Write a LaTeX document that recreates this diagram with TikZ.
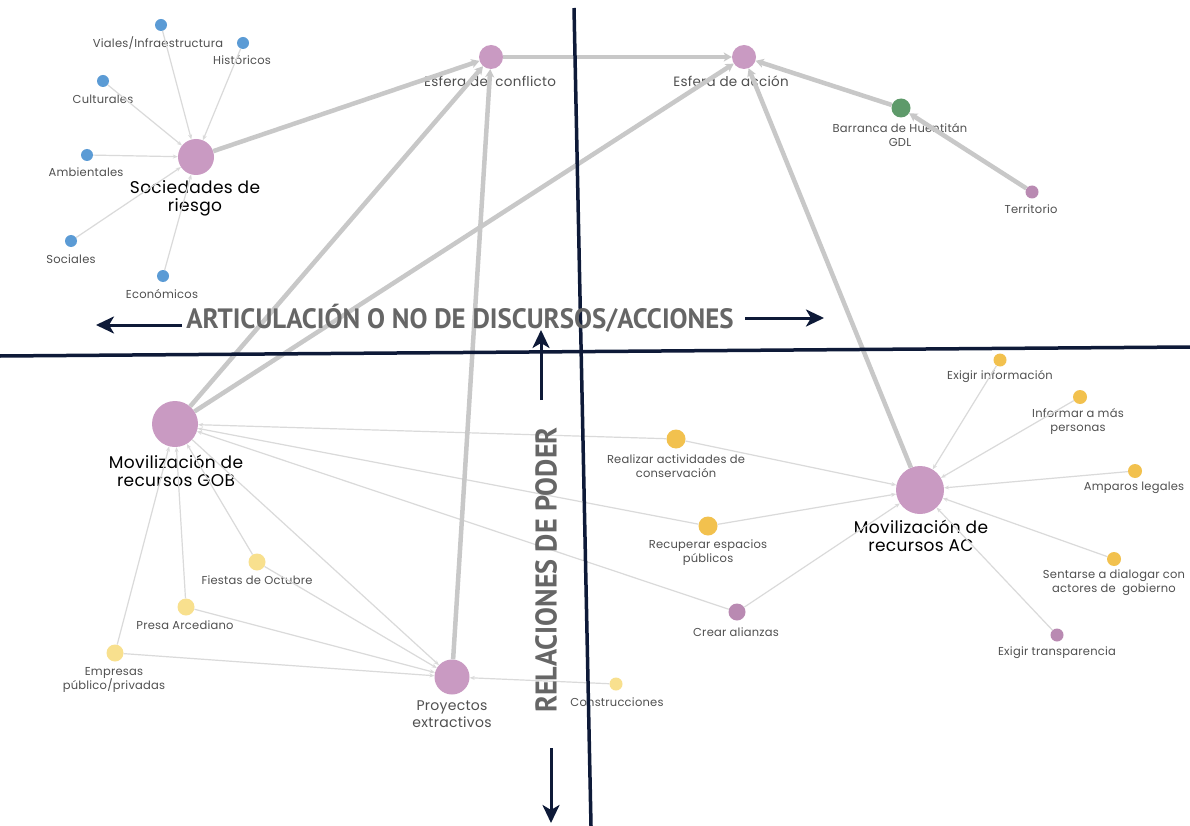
\documentclass[tikz,border=0pt]{standalone}
\usepackage{fontspec}
\setmainfont{Poppins}[LetterSpace=2]
\newfontfamily\headfont{PT Sans}
\usetikzlibrary{arrows.meta}
\definecolor{hub}{HTML}{C99AC2}
\definecolor{mauve}{HTML}{B98AB2}
\definecolor{bluedot}{HTML}{5B9BD5}
\definecolor{greendot}{HTML}{5E9A6A}
\definecolor{gold}{HTML}{F2C14E}
\definecolor{paleyel}{HTML}{F8E08E}
\definecolor{thickgrey}{HTML}{C8C8C8}
\definecolor{thingrey}{HTML}{DADADA}
\definecolor{navy}{HTML}{0E1A38}
\definecolor{lbl}{HTML}{505050}
\definecolor{headgrey}{HTML}{666666}
\tikzset{
  dot/.style={circle,inner sep=0pt,minimum size=#1},
  smalllbl/.style={text=lbl,font=\fontsize{11.5}{14}\selectfont,align=center,inner sep=0pt},
  esflbl/.style={text=lbl,font=\fontsize{13.5}{15}\selectfont,align=center,inner sep=0pt},
  hublbl/.style={text=black,font=\fontsize{17}{18}\selectfont,align=center,inner sep=0pt},
  thinedge/.style={draw=thingrey,line width=1.2pt,-{Stealth[length=5pt,width=4pt]}},
  thickedge/.style={draw=thickgrey,line width=4.5pt,-{Stealth[length=8pt,width=9pt,inset=2pt]}},
  axisline/.style={draw=navy,line width=3.5pt},
  axisarrow/.style={draw=navy,line width=3pt,-{Stealth[length=18pt,width=17pt,inset=5pt]}},
  headtxt/.style={text=headgrey,inner sep=0pt}
}
\begin{document}
\begin{tikzpicture}[x=1pt,y=-1pt]
\useasboundingbox[fill=white] (0,0) rectangle (1190,826);
% nodes
\node[dot=36pt,fill=hub] (soc) at (196,157) {};
\node[dot=12pt,fill=bluedot] (viales) at (161,25) {};
\node[dot=12pt,fill=bluedot] (hist) at (243,43) {};
\node[dot=12pt,fill=bluedot] (cult) at (103,81) {};
\node[dot=12pt,fill=bluedot] (amb) at (87,155) {};
\node[dot=12pt,fill=bluedot] (sociales) at (71,241) {};
\node[dot=12pt,fill=bluedot] (econ) at (163,276) {};
\node[dot=24pt,fill=hub] (conf) at (491,57) {};
\node[dot=24pt,fill=hub] (acc) at (744,57) {};
\node[dot=19pt,fill=greendot] (barr) at (901,108) {};
\node[dot=13pt,fill=mauve] (terr) at (1032,192) {};
\node[dot=46pt,fill=hub] (gob) at (175,424) {};
\node[dot=17pt,fill=paleyel] (fiestas) at (257,562) {};
\node[dot=17pt,fill=paleyel] (presa) at (186,607) {};
\node[dot=17pt,fill=paleyel] (empresas) at (115,653) {};
\node[dot=35pt,fill=hub] (proy) at (452,677) {};
\node[dot=13pt,fill=paleyel] (constr) at (616,684) {};
\node[dot=19pt,fill=gold] (realizar) at (676,439) {};
\node[dot=19pt,fill=gold] (recup) at (708,526) {};
\node[dot=17pt,fill=mauve] (crear) at (737,612) {};
\node[dot=48pt,fill=hub] (ac) at (920,490) {};
\node[dot=13pt,fill=gold] (exinfo) at (1000,360) {};
\node[dot=14pt,fill=gold] (informar) at (1080,397) {};
\node[dot=14pt,fill=gold] (amparos) at (1135,471) {};
\node[dot=14pt,fill=gold] (sentarse) at (1114,559) {};
\node[dot=13pt,fill=mauve] (extransp) at (1057,635) {};
% labels
\node[smalllbl] (lviales) at (158,43) {Viales/Infraestructura};
\node[smalllbl] (lhist) at (242,60) {Históricos};
\node[smalllbl] (lcult) at (103,99) {Culturales};
\node[smalllbl] (lamb) at (86,172) {Ambientales};
\node[hublbl] (lsoc) at (195,198) {Sociedades de\\riesgo};
\node[smalllbl] (lsociales) at (71,259) {Sociales};
\node[smalllbl] (lecon) at (162,294) {Económicos};
\node[esflbl] (lconf) at (490,81) {Esfera del conflicto};
\node[esflbl] (lacc) at (731,81) {Esfera de acción};
\node[smalllbl] (lbarr) at (900,135.5) {Barranca de Huentitán\\GDL};
\node[smalllbl] (lterr) at (1031,209) {Territorio};
\node[hublbl] (lgob) at (176,471) {Movilización de\\recursos GOB};
\node[smalllbl] (lfiestas) at (257,580) {Fiestas de Octubre};
\node[smalllbl] (lpresa) at (185,625) {Presa Arcediano};
\node[smalllbl] (lempresas) at (114,679.5) {Empresas\\público/privadas};
\node[smalllbl,font=\fontsize{14}{17}\selectfont] (lproy) at (452,714) {Proyectos\\extractivos};
\node[smalllbl] (lconstr) at (617,702) {Construcciones};
\node[smalllbl] (lrealizar) at (676,466) {Realizar actividades de\\conservación};
\node[smalllbl] (lrecup) at (708,553) {Recuperar espacios\\públicos};
\node[smalllbl] (lcrear) at (736,632) {Crear alianzas};
\node[hublbl] (lac) at (921,535.5) {Movilización de\\recursos AC};
\node[smalllbl] (lexinfo) at (1000,377) {Exigir información};
\node[smalllbl] (linformar) at (1078,421) {Informar a más\\personas};
\node[smalllbl] (lamparos) at (1134,488) {Amparos legales};
\node[smalllbl] (lsentarse) at (1114,583) {Sentarse a dialogar con\\actores de\ \ gobierno};
\node[smalllbl] (lextransp) at (1057,653) {Exigir transparencia};
% thin edges
\foreach \s in {viales,hist,cult,amb,sociales,econ} \draw[thinedge] (\s) -- (soc);
\foreach \s in {realizar,recup,crear,fiestas,presa,empresas} \draw[thinedge] (\s) -- (gob);
\draw[thinedge] (gob) -- (proy);
\foreach \s in {fiestas,presa,empresas,constr} \draw[thinedge] (\s) -- (proy);
\foreach \s in {realizar,recup,crear,exinfo,informar,amparos,sentarse,extransp} \draw[thinedge] (\s) -- (ac);
% thick edges
\draw[thickedge] (soc) -- (conf);
\draw[thickedge] (gob) -- (conf);
\draw[thickedge] (proy) -- (conf);
\draw[thickedge] (conf) -- (acc);
\draw[thickedge] (gob) -- (acc);
\draw[thickedge] (ac) -- (acc);
\draw[thickedge] (barr) -- (acc);
\draw[thickedge] (terr) -- (barr);
% axes
\coordinate (hl) at (0,356);
\coordinate (hr) at (1190,347);
\coordinate (vt) at (574,8);
\coordinate (vb) at (591,826);
\draw[axisline] (hl) -- (hr);
\draw[axisline] (vt) -- (vb);
\coordinate (la1) at (182,325); \coordinate (la2) at (96,325);
\coordinate (ra1) at (745,318); \coordinate (ra2) at (824,318);
\coordinate (ua1) at (541,400); \coordinate (ua2) at (541,330);
\coordinate (da1) at (551,748); \coordinate (da2) at (551,823);
\draw[axisarrow] (la1) -- (la2);
\draw[axisarrow] (ra1) -- (ra2);
\draw[axisarrow] (ua1) -- (ua2);
\draw[axisarrow] (da1) -- (da2);
\node[headtxt] (arttxt) at (460,318) {\scalebox{0.96}[1]{\headfont\bfseries\fontsize{28}{28}\selectfont ARTICULACIÓN O NO DE DISCURSOS/ACCIONES}};
\node[headtxt,rotate=90] (reltxt) at (546,570) {\scalebox{0.94}[1]{\headfont\bfseries\fontsize{30}{30}\selectfont RELACIONES DE PODER}};
\end{tikzpicture}
\end{document}
